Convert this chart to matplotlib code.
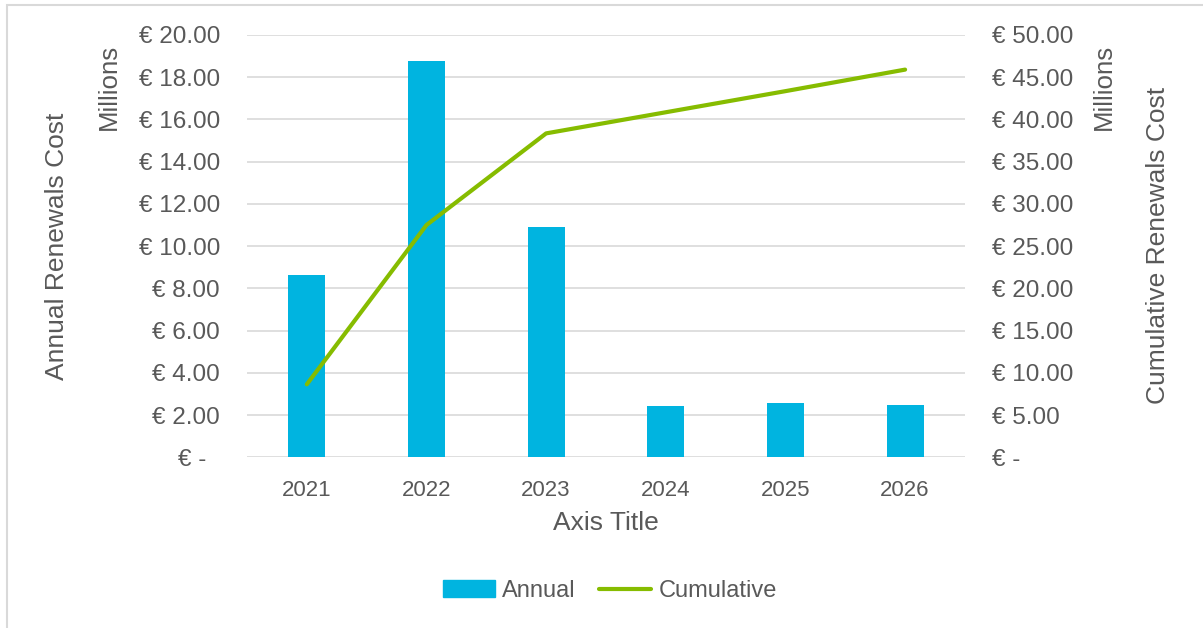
import numpy as np
import matplotlib
matplotlib.use("Agg")
import matplotlib.pyplot as plt
from matplotlib.ticker import FuncFormatter, MultipleLocator
from matplotlib.patches import Rectangle, Patch
from matplotlib.lines import Line2D

# Data (millions of euros)
years = ["2021", "2022", "2023", "2024", "2025", "2026"]
annual = [8.63, 18.76, 10.89, 2.44, 2.56, 2.48]
cumulative = [8.64, 27.5, 38.35, 40.85, 43.35, 45.9]

bar_color = "#00b4e0"
line_color = "#86bc00"
text_color = "#595959"
grid_color = "#d9d9d9"

plt.rcParams["font.family"] = ["Liberation Sans", "DejaVu Sans"]
plt.rcParams["font.size"] = 16
plt.rcParams["text.color"] = text_color


def euro(v, pos):
    if abs(v) < 1e-9:
        return "€ -  "
    return f"€ {v:.2f}"


fig = plt.figure(figsize=(12.03, 6.28), dpi=100)
ax = fig.add_axes([0.2053, 0.2718, 0.5968, 0.6725])
ax2 = ax.twinx()

x = np.arange(len(years))
ax.bar(x, annual, width=0.31, color=bar_color, zorder=2)
ax2.plot(x, cumulative, color=line_color, lw=3, solid_capstyle="round",
         solid_joinstyle="round", zorder=3)

ax.set_xlim(-0.5, len(years) - 0.5)
ax.set_ylim(0, 20)
ax2.set_ylim(0, 50)
ax.yaxis.set_major_locator(MultipleLocator(2))
ax2.yaxis.set_major_locator(MultipleLocator(5))
ax.yaxis.set_major_formatter(FuncFormatter(euro))
ax2.yaxis.set_major_formatter(FuncFormatter(euro))

ax.grid(axis="y", color=grid_color, lw=1.2, zorder=0)
ax.set_axisbelow(True)
for a in (ax, ax2):
    for s in a.spines.values():
        s.set_visible(False)
    a.tick_params(length=0, colors=text_color)
ax.tick_params(axis="y", pad=19.4, labelsize=17.5)
ax2.tick_params(axis="y", pad=19.2, labelsize=17.5)
ax.tick_params(axis="x", pad=16, labelsize=16)
ax.set_xticks(x)
ax.set_xticklabels(years)

# axis titles and unit labels
fig.text(606 / 1203, 1 - 522.5 / 628, "Axis Title", ha="center", va="center",
         fontsize=19, color=text_color)
fig.text(57 / 1203, 1 - 246 / 628, "Annual Renewals Cost", rotation=90,
         ha="center", va="center", fontsize=19, color=text_color)
fig.text(109 / 1203, 1 - 87 / 628, "Millions", rotation=90,
         ha="center", va="center", fontsize=18.6, color=text_color)
fig.text(1104 / 1203, 1 - 87 / 628, "Millions", rotation=90,
         ha="center", va="center", fontsize=18.6, color=text_color)
fig.text(1158 / 1203, 1 - 245 / 628, "Cumulative Renewals Cost", rotation=90,
         ha="center", va="center", fontsize=19, color=text_color)

handles = [Patch(color=bar_color, label="Annual"),
           Line2D([], [], color=line_color, lw=3, solid_capstyle="round",
                  label="Cumulative")]
fig.legend(handles=handles, loc="center", bbox_to_anchor=(610 / 1203, 1 - 591 / 628),
           ncol=2, frameon=False, fontsize=17, handlelength=2.2,
           handletextpad=0.3, columnspacing=1.0, labelcolor=text_color)

# light chart border
fig.patches.append(Rectangle((7 / 1203, -0.1), 1.2, 1 - 5 / 628 + 0.1,
                             transform=fig.transFigure, fill=False,
                             edgecolor=grid_color, lw=1.5))

fig.savefig("out.png", dpi=100)
